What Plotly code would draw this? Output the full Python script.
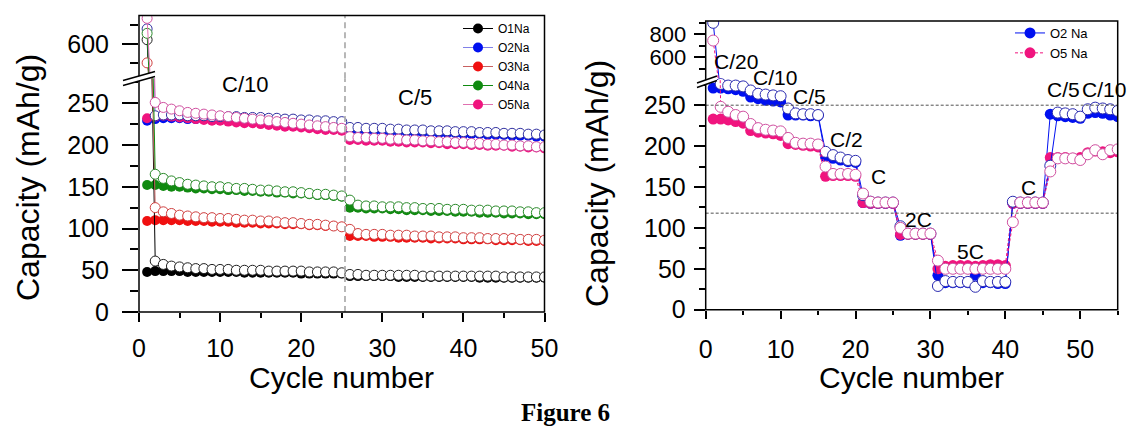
import plotly.graph_objects as go

W, H = 1129, 428


def fx(px):
    return px / W


def fy(py):
    return 1 - py / H


# ---------------- data: left panel (cycling, C/10 then C/5) ----------------
cycles_left = list(range(1, 51))
o1_charge = [48, 49, 49, 49, 49, 48, 48, 48, 48, 48, 48, 48, 47, 47, 47, 47, 47, 47, 47, 46, 46, 46, 46, 46, 46,
             43, 43, 43, 43, 43, 43, 42, 42, 42, 42, 42, 42, 42, 42, 42, 42, 41, 41, 41, 41, 41, 41, 41, 41, 41]
o1_discharge = [611, 61, 57, 55, 54, 53, 52, 52, 51, 51, 51, 50, 50, 50, 50, 49, 49, 49, 49, 49, 48, 48, 48, 48, 47,
                45, 45, 44, 44, 44, 44, 44, 44, 44, 43, 43, 43, 43, 43, 43, 43, 43, 43, 43, 42, 42, 42, 42, 42, 42]
o2_charge = [229, 231, 232, 232, 232, 231, 231, 231, 230, 230, 230, 229, 229, 229, 228, 228, 228, 227, 227, 227, 226,
             226, 226, 225, 225, 218, 218, 217, 217, 217, 216, 216, 216, 215, 215, 215, 214, 214, 214, 213, 213, 213,
             212, 212, 212, 211, 211, 211, 210, 210]
o2_discharge = [640, 235, 236, 236, 236, 235, 235, 235, 234, 234, 234, 234, 233, 233, 233, 232, 232, 231, 231, 230,
                230, 229, 229, 228, 228, 221, 221, 220, 220, 220, 219, 219, 218, 218, 218, 217, 217, 217, 216, 216,
                216, 215, 215, 215, 214, 214, 214, 213, 213, 212]
o3_charge = [109, 110, 110, 110, 110, 109, 109, 109, 108, 108, 108, 107, 107, 107, 106, 106, 106, 105, 105, 105, 104,
             104, 103, 103, 102, 91, 91, 91, 90, 90, 90, 89, 89, 89, 89, 88, 88, 88, 88, 87, 87, 87, 87, 86, 86, 86,
             86, 85, 85, 85]
o3_discharge = [549, 125, 120, 118, 116, 115, 114, 113, 113, 112, 112, 111, 110, 110, 109, 109, 108, 107, 107, 106,
                105, 105, 104, 103, 102, 99, 94, 93, 93, 93, 92, 92, 92, 91, 91, 91, 90, 90, 90, 89, 89, 89, 88, 88,
                88, 88, 87, 87, 87, 86]
o4_charge = [152, 152, 151, 150, 150, 149, 148, 148, 147, 147, 146, 146, 145, 145, 144, 144, 143, 143, 142, 142, 141,
             140, 140, 139, 138, 125, 125, 124, 124, 124, 123, 123, 122, 122, 122, 121, 121, 121, 120, 120, 120, 119,
             119, 119, 118, 118, 118, 117, 117, 117]
o4_discharge = [628, 165, 160, 157, 155, 153, 152, 151, 150, 150, 149, 148, 148, 147, 146, 146, 145, 144, 144, 143,
                142, 141, 141, 140, 139, 134, 128, 127, 127, 126, 126, 126, 125, 125, 124, 124, 124, 123, 123, 123,
                122, 122, 122, 121, 121, 121, 120, 120, 119, 119]
o5_charge = [232, 234, 235, 234, 233, 232, 231, 230, 229, 229, 228, 227, 226, 226, 225, 224, 223, 222, 222, 221, 220,
             219, 218, 218, 217, 206, 206, 205, 205, 205, 204, 204, 203, 203, 203, 202, 202, 201, 201, 201, 200, 200,
             199, 199, 199, 198, 198, 197, 197, 196]
o5_discharge = [668, 251, 245, 243, 241, 239, 238, 237, 236, 235, 234, 233, 232, 231, 230, 229, 228, 227, 226, 225,
                224, 223, 222, 221, 220, 210, 209, 209, 208, 208, 207, 207, 206, 206, 205, 205, 204, 204, 203, 203,
                202, 202, 201, 201, 200, 200, 199, 199, 198, 198]

left_names = ["O1Na", "O2Na", "O3Na", "O4Na", "O5Na"]
left_charge = [o1_charge, o2_charge, o3_charge, o4_charge, o5_charge]
left_discharge = [o1_discharge, o2_discharge, o3_discharge, o4_discharge, o5_discharge]
left_marker_colors = ["#000000", "#0010f0", "#f01010", "#108a10", "#f0147e"]
left_line_colors = ["#000000", "#8080e8", "#c86060", "#108a10", "#e070b0"]
left_open_colors = ["#202020", "#3030a0", "#d04040", "#2a8a2a", "#d050a0"]

# ---------------- data: right panel (rate capability) ----------------
cycles_right = list(range(1, 56))
o2na_charge = [271, 271, 270, 269, 267, 260, 258, 256, 255, 254, 238, 238, 238, 237, 237, 187, 185, 183, 181, 180,
               131, 130, 130, 130, 130, 91, 93, 93, 93, 92, 42, 33, 33, 33, 33, 42, 33, 33, 32, 32,
               130, 130, 130, 130, 130, 239, 237, 236, 235, 234, 240, 241, 240, 238, 236]
o2na_discharge = [900, 276, 274, 274, 273, 268, 264, 263, 262, 261, 246, 240, 239, 239, 238, 193, 189, 186, 183, 182,
                  140, 132, 131, 131, 131, 102, 93, 93, 93, 93, 29, 35, 34, 34, 34, 28, 35, 34, 34, 34,
                  132, 131, 131, 131, 131, 176, 241, 240, 239, 236, 245, 247, 246, 245, 243]
o5na_charge = [233, 233, 232, 230, 228, 219, 217, 216, 215, 213, 203, 202, 201, 200, 199, 163, 164, 164, 164, 163,
               131, 130, 130, 130, 130, 92, 92, 92, 92, 92, 50, 53, 54, 54, 54, 53, 54, 55, 55, 54,
               130, 130, 130, 130, 130, 186, 186, 186, 185, 186, 192, 194, 193, 192, 193]
o5na_discharge = [745, 248, 242, 238, 236, 227, 222, 220, 219, 218, 210, 204, 203, 203, 202, 175, 166, 166, 166, 165,
                  142, 132, 131, 131, 131, 100, 93, 93, 93, 93, 60, 50, 50, 50, 50, 50, 50, 50, 50, 50,
                  107, 131, 131, 131, 131, 169, 185, 185, 185, 183, 190, 195, 190, 195, 196]
right_names = ["O2 Na", "O5 Na"]
right_charge = [o2na_charge, o5na_charge]
right_discharge = [o2na_discharge, o5na_discharge]
right_colors = ["#0010f0", "#f0147e"]
right_open_colors = ["#2a2ab0", "#d050a0"]
right_dash = ["solid", "3px,2px"]

rate_labels = ["C/20", "C/10", "C/5", "C/2", "C", "2C", "5C", "C", "C/5", "C/10"]
rate_label_px = [(736, 61), (775, 78), (809, 96), (846, 140), (878, 177), (918, 220), (970, 252),
                 (1028, 187), (1063, 90), (1104, 90)]
ref_lines_right = [250, 118]
rate_switch_left = 25.4

FONT = "Liberation Sans, Arial, sans-serif"

fig = go.Figure()

# left panel traces: filled (charge) under open (discharge)
for axis_y in ["y", "y2"]:
    for i, nm in enumerate(left_names):
        fig.add_trace(go.Scatter(
            x=cycles_left, y=left_charge[i], xaxis="x", yaxis=axis_y, mode="lines+markers",
            name=nm, legend="legend", showlegend=(axis_y == "y"),
            line=dict(color=left_line_colors[i], width=1),
            marker=dict(symbol="circle", size=10, color=left_marker_colors[i],
                        line=dict(width=0))))
for axis_y in ["y", "y2"]:
    for i, nm in enumerate(left_names):
        fig.add_trace(go.Scatter(
            x=cycles_left, y=left_discharge[i], xaxis="x", yaxis=axis_y, mode="lines+markers",
            name=nm, showlegend=False,
            line=dict(color=left_line_colors[i], width=1),
            marker=dict(symbol="circle", size=10, color="white",
                        line=dict(width=1, color=left_open_colors[i]))))

# right panel traces
for axis_y in ["y3", "y4"]:
    for i, nm in enumerate(right_names):
        fig.add_trace(go.Scatter(
            x=cycles_right, y=right_charge[i], xaxis="x2", yaxis=axis_y, mode="lines+markers",
            name=nm, legend="legend2", showlegend=(axis_y == "y3"),
            line=dict(color=right_colors[i], width=1, dash=right_dash[i]),
            marker=dict(symbol="circle", size=11, color=right_colors[i], line=dict(width=0))))
for axis_y in ["y3", "y4"]:
    for i, nm in enumerate(right_names):
        fig.add_trace(go.Scatter(
            x=cycles_right, y=right_discharge[i], xaxis="x2", yaxis=axis_y, mode="lines+markers",
            name=nm, showlegend=False,
            line=dict(color=right_colors[i], width=1, dash=right_dash[i]),
            marker=dict(symbol="circle", size=11, color="white",
                        line=dict(width=1, color=right_open_colors[i]))))

# geometry (pixels)
L_x0, L_x1 = 139, 544.5
L_bot, L_brk, L_top = 312, 78.2, 15.4
R_x0, R_x1 = 705.7, 1117.7
R_bot, R_brk, R_top = 309.7, 78.2, 21

tickfont = dict(family=FONT, size=25, color="black")
common_y = dict(showgrid=False, zeroline=False, showline=False, ticks="outside", tickcolor="black",
                automargin=False)

fig.update_layout(
    width=W, height=H, margin=dict(l=0, r=0, t=0, b=0),
    paper_bgcolor="white", plot_bgcolor="white", showlegend=True,
    xaxis=dict(domain=[fx(L_x0), fx(L_x1)], range=[0, 50], anchor="y", showgrid=False, zeroline=False,
               showline=False, ticks="outside", ticklen=9, tickwidth=1.5, tickcolor="black", dtick=10, tick0=0,
               tickfont=tickfont, ticklabelstandoff=5, automargin=False,
               minor=dict(dtick=5, tick0=0, ticks="outside", ticklen=5, tickwidth=1.5, tickcolor="black")),
    yaxis=dict(domain=[fy(L_bot), fy(L_brk)], range=[0, 280], anchor="x", dtick=50, tick0=0,
               ticklen=16, tickwidth=1.5, ticklabelstandoff=8, tickfont=tickfont,
               minor=dict(dtick=25, tick0=0, ticks="outside", ticklen=8, tickwidth=1.5, tickcolor="black"),
               **common_y),
    yaxis2=dict(domain=[fy(L_brk), fy(L_top)], range=[508, 676], anchor="x", dtick=100, tick0=0,
                ticklen=16, tickwidth=1.5, ticklabelstandoff=8, tickfont=tickfont,
                minor=dict(dtick=50, tick0=0, ticks="outside", ticklen=8, tickwidth=1.5, tickcolor="black"),
                **common_y),
    xaxis2=dict(domain=[fx(R_x0), fx(R_x1)], range=[0, 55], anchor="y3", showgrid=False, zeroline=False,
                showline=False, ticks="outside", ticklen=8, tickwidth=1.5, tickcolor="black", dtick=10, tick0=0,
                tickfont=tickfont, ticklabelstandoff=9, automargin=False,
                minor=dict(dtick=5, tick0=0, ticks="outside", ticklen=4, tickwidth=1.5, tickcolor="black")),
    yaxis3=dict(domain=[fy(R_bot), fy(R_brk)], range=[0, 283], anchor="x2", dtick=50, tick0=0,
                ticklen=11, tickwidth=1.5, ticklabelstandoff=3, tickfont=tickfont,
                minor=dict(dtick=25, tick0=0, ticks="outside", ticklen=6, tickwidth=1.5, tickcolor="black"),
                **common_y),
    yaxis4=dict(domain=[fy(R_brk), fy(R_top)], range=[416, 916], anchor="x2", dtick=200, tick0=0,
                ticklen=11, tickwidth=1.5, ticklabelstandoff=3,
                tickfont=dict(family=FONT, size=22, color="black"),
                minor=dict(dtick=100, tick0=0, ticks="outside", ticklen=6, tickwidth=1.5, tickcolor="black"),
                **common_y),
    legend=dict(x=fx(458), y=fy(14), xanchor="left", yanchor="top", bgcolor="rgba(0,0,0,0)",
                font=dict(family=FONT, size=12, color="black"), itemsizing="trace", tracegroupgap=0),
    legend2=dict(x=fx(1010), y=fy(18), xanchor="left", yanchor="top", bgcolor="rgba(0,0,0,0)",
                 font=dict(family=FONT, size=13, color="black"), itemsizing="trace", tracegroupgap=0),
)

shapes = []
# rate switch line in left panel (spans both sections)
for yr in ["y", "y2"]:
    shapes.append(dict(type="line", xref="x", yref=yr + " domain", x0=rate_switch_left, x1=rate_switch_left,
                       y0=0, y1=1, line=dict(color="#b0b0b0", width=1.8, dash="6px,4px")))
# reference lines on right
for v in ref_lines_right:
    shapes.append(dict(type="line", xref="x2 domain", yref="y3", x0=0, x1=1, y0=v, y1=v,
                       line=dict(color="#505050", width=1, dash="3px,2px")))
# frames
shapes.append(dict(type="rect", xref="paper", yref="paper", x0=fx(L_x0), x1=fx(L_x1), y0=fy(L_bot), y1=fy(L_top),
                   line=dict(color="black", width=1.5)))
shapes.append(dict(type="rect", xref="paper", yref="paper", x0=fx(R_x0), x1=fx(R_x1), y0=fy(R_bot), y1=fy(R_top),
                   line=dict(color="black", width=1.5)))
# axis break marks
for (xa, xb, ya, yb, gap) in [(123, 155, 80.5, 71.5, 5), (697, 717, 83, 76, 4.5)]:
    shapes.append(dict(type="path", xref="paper", yref="paper",
                       path=f"M {fx(xa)},{fy(ya)} L {fx(xb)},{fy(yb)} L {fx(xb)},{fy(yb + gap)} "
                            f"L {fx(xa)},{fy(ya + gap)} Z",
                       fillcolor="white", line=dict(width=0)))
    shapes.append(dict(type="line", xref="paper", yref="paper", x0=fx(xa), y0=fy(ya), x1=fx(xb), y1=fy(yb),
                       line=dict(color="black", width=1.5)))
    shapes.append(dict(type="line", xref="paper", yref="paper", x0=fx(xa), y0=fy(ya + gap), x1=fx(xb),
                       y1=fy(yb + gap), line=dict(color="black", width=1.5)))
fig.update_layout(shapes=shapes)

ann = []


def add_text(text, px, py, size, family=FONT, angle=0):
    ann.append(dict(text=text, x=fx(px), y=fy(py), xref="paper", yref="paper", showarrow=False,
                    xanchor="center", yanchor="middle", textangle=angle,
                    font=dict(family=family, size=size, color="black")))


add_text("C/10", 245, 84, 22)
add_text("C/5", 415, 98, 22)
for lab, (px, py) in zip(rate_labels, rate_label_px):
    add_text(lab, px, py, 21)
for cx in [(L_x0 + L_x1) / 2, (R_x0 + R_x1) / 2]:
    add_text("Cycle number", cx, 377, 30)
for cx, cy in [(28, 178), (597, 184)]:
    add_text("Capacity (mAh/g)", cx, cy, 32, angle=-90)
add_text("<b>Figure 6</b>", 565, 412, 25, family="Liberation Serif, Times New Roman, serif")
fig.update_layout(annotations=ann)

fig.write_html("out.html", config={"displayModeBar": False},
               post_script="document.body.style.margin='0';")
